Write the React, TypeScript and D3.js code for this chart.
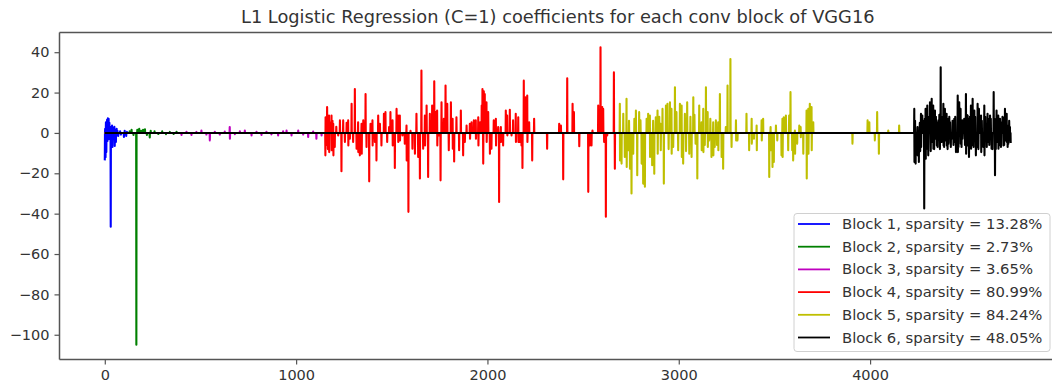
import React, { useEffect, useRef } from "react";
import * as d3 from "d3";

// coefficient index ranges of each conv block (64+64 | 128+128 | 256x3 | 512x3 | 512x3 | 512)
const blockStarts = [0, 128, 384, 1152, 2688, 4224];
const blockEnds = [127, 383, 1151, 2687, 4223, 4735];
const blockColors = ["#0000ff", "#008000", "#bf00bf", "#ff0000", "#bfbf00", "#000000"];
const sparsity = ["13.28%", "2.73%", "3.65%", "80.99%", "84.24%", "48.05%"];

const xTicks = [0, 1000, 2000, 3000, 4000];
const yTicks = [-100, -80, -60, -40, -20, 0, 20, 40];

// non-zero coefficients: [index, value]
const block1: [number, number][] = [
  [0, -13.6], [2, 2], [4, -12], [6, 5.3], [8, -9.5], [10, 4], [12, 6.5], [14, -4], [16, 7.3],
  [18, 3], [20, 7.0], [22, -3], [24, 5], [26, -2], [28, 3], [31, -46.5], [34, 2], [38, 3.7],
  [40, -7], [43, 2.5], [46, -3], [50, 3], [52, -6.5], [55, 1.5], [58, -4.5], [62, 2], [66, 1],
  [70, -1.5], [80, 0.8], [84, -0.8], [100, -2], [104, 1], [112, -1.5], [116, 0.5],
];
const block2: [number, number][] = [
  [130, 0.8], [140, 1.5], [150, -1], [165, -104.9], [170, 1.5], [180, 2], [190, 1], [200, 1.5],
  [210, 1.8], [220, -1], [235, -2.2], [240, 1], [260, 0.8], [280, -0.5], [300, 0.8], [320, -0.6],
  [340, 0.5], [360, -0.5], [375, 0.6],
];
const block3: [number, number][] = [
  [401, -1.0], [427, 0.6], [453, -1.0], [479, 0.5], [505, 1.2], [531, -0.8], [549, -3.7],
  [575, 0.6], [601, -0.8], [627, 0.7], [653, 2.9], [654, -2.9], [680, -0.6], [706, 0.8],
  [732, 1.2], [767, -1.2], [793, 0.6], [819, -1.0], [845, 0.6], [871, -0.7], [906, -1.2],
  [932, 0.8], [950, 1.2], [976, -1.2], [1011, 1.2], [1037, -0.8], [1063, -2.0], [1089, 0.7],
  [1106, -2.9], [1133, -1.2],
];
const block4: [number, number][] = [
  [1153, -11.1], [1154, 7.8], [1158, -6], [1162, 12.8], [1166, -8], [1172, 8.6], [1173, -9.5],
  [1178, 5], [1185, 8.6], [1186, -8.6], [1190, 6], [1194, 4.5], [1195, -11.1], [1202, -7.0],
  [1210, 3], [1220, -1.2], [1229, 6.2], [1237, -19.0], [1246, 6.2],
  [1255, -4.5], [1264, 5], [1272, 6.2], [1273, -6.2], [1281, -2.9], [1290, 14.4], [1298, -4.5], [1307, 21.8],
  [1316, -7.8], [1324, 5.3], [1325, -9.5], [1333, -11.1], [1342, 4.5], [1343, -10.3], [1351, 6.2],
  [1363, 19.3], [1368, -7.0], [1382, -24.0], [1389, 4.5], [1399, 6.2], [1400, -6.2], [1412, -4.5],
  [1420, -13.6], [1429, 8.6], [1438, 4.5], [1446, -6.2], [1459, 9.5], [1467, 10.3], [1476, -4.5],
  [1486, 2.9], [1493, 10.3], [1504, 6.2], [1505, -6.2], [1516, -17.4], [1525, 11.9], [1533, 8.6],
  [1534, -4.5], [1542, 8.6], [1543, -3.7], [1556, -1.2], [1568, -5.3], [1577, 3.7], [1578, -13.6],
  [1587, -39.1], [1598, 1.0], [1608, -7.8], [1621, -10.3], [1629, 9.5], [1638, -11.9], [1647, -22.6],
  [1655, 30.9], [1664, -7.8], [1673, 8.6], [1674, -6.2], [1682, 13.6], [1690, -21.8], [1699, 9.5],
  [1711, 13.6], [1722, 25.6], [1730, 10.3], [1737, 11.1], [1738, -6.2], [1748, -1.2], [1755, -23.5],
  [1760, 15.2], [1772, 7.0], [1781, 23.5], [1790, 14.4], [1798, -8.6], [1809, 15.2], [1818, 7.0],
  [1819, -7.8], [1826, -14.1], [1838, 7.8], [1852, -8.6], [1861, 11.1], [1873, -11.1], [1882, -4.5],
  [1891, 3.7], [1908, 4.5], [1909, -2.9], [1917, 5.3], [1929, 6.2], [1939, 6.2], [1940, -2.9],
  [1952, 7.8], [1953, -6.2], [1962, 5.3], [1970, 13.6], [1974, 21.8], [1978, -15.2], [1981, 20.6],
  [1986, 19.3], [1995, 15.2], [1996, -4.5], [2004, 10.3], [2013, -10.3], [2021, -7.8], [2033, 6.2],
  [2044, 7.0], [2045, -6.2], [2056, 2.9], [2061, -34.2], [2070, 2.9], [2071, -4.5], [2082, -6.2],
  [2096, 11.1], [2103, 8.6], [2104, -1.2], [2117, 11.5], [2126, -1.2], [2134, 6.2], [2148, 9.5],
  [2149, -4.5], [2161, 7.8], [2162, -4.5], [2169, -4.5], [2178, -6.2], [2183, -17.4], [2190, 25.9],
  [2199, 17.7], [2208, 18.5], [2209, -4.5], [2218, 5.3], [2234, -13.6], [2244, 7.0], [2312, -7.8],
  [2375, 4.5], [2384, 3.7], [2396, -23.0], [2417, 27.1], [2445, 14.4], [2452, 10.3], [2480, -6.6],
  [2527, -29.2], [2535, -6.2], [2544, -6.2], [2549, 1.2], [2579, 13.6], [2591, 42.4], [2600, 12.8],
  [2605, 11.9], [2610, -4.5], [2619, -41.5], [2626, -1.2], [2661, 30.0], [2666, -17.7],
];
const block5: [number, number][] = [
  [2692, 14.4], [2693, -13.6], [2701, -15.2], [2710, 9.5], [2718, -11.9], [2727, 16.9], [2728, -16.9],
  [2736, -8.6], [2740, 6], [2745, -17.7], [2753, -30.0], [2762, -10.3], [2768, 7], [2776, 11.1], [2783, -21.0], [2793, 10.3],
  [2800, 6.2], [2806, -15.2], [2814, -25.1], [2823, -26.7], [2832, 7.0], [2840, 9.5], [2849, 8.6],
  [2850, -11.9], [2861, -16.0], [2866, 6], [2872, -20.2], [2880, 7.8], [2889, 11.1], [2890, -10.3], [2898, 8], [2905, 4.5],
  [2906, -8.6], [2915, 11.9], [2922, -25.1], [2933, 13.6], [2941, 14.4], [2947, -8], [2954, 15.2], [2962, 11.9],
  [2963, -10.3], [2971, -7.0], [2980, 22.6], [2988, 10.3], [2997, -8.6], [3006, 14.4], [3015, 13.6],
  [3016, -11.9], [3023, -15.2], [3032, 9.5], [3038, -9], [3044, 15.2], [3055, -10.3], [3061, 8], [3067, -11.9], [3076, 17.7],
  [3082, 9], [3088, -5.3], [3097, -22.6], [3107, 13.6], [3119, 5.3], [3120, -8.6], [3128, 11.9], [3129, -9.5],
  [3136, -6], [3142, 22.6], [3151, 10.3], [3152, -7.0], [3159, -3.7], [3165, 7], [3171, -11.9], [3180, 5.3], [3181, -11.1],
  [3188, -7], [3194, 6.2], [3200, -6], [3206, 5.3], [3207, -8.6], [3215, 19.3], [3224, -11.9], [3232, -17.7], [3246, 2.9],
  [3255, 23.5], [3270, 36.6], [3276, -7.0], [3299, 6.2], [3300, -3.7], [3307, -3.7], [3354, 9.5],
  [3368, -8.6], [3381, 7.0], [3382, -5.3], [3393, -2.9], [3407, 3.7], [3408, -8.6], [3433, 6.2],
  [3434, -3.7], [3441, 7.0], [3473, -21.8], [3480, 2.9], [3481, -8.6], [3490, -16.9], [3497, -14.4],
  [3508, 3.7], [3515, -3.7], [3537, -11.1], [3542, 7.0], [3543, -11.9], [3549, 7.8], [3560, 8.6],
  [3572, -8.6], [3577, 8.6], [3584, 20.2], [3593, -8.6], [3598, -13.6], [3607, 1.2], [3608, -10.3],
  [3619, -5.3], [3630, 3.7], [3637, 2.9], [3638, -2.1], [3651, -10.3], [3668, 11.1], [3669, -22.6],
  [3677, 11.9], [3678, -10.3], [3685, 14.4], [3694, 12.8], [3695, -8.6], [3703, 5.3], [3908, -5.3],
  [3987, 6.2], [3996, 5.3], [4025, -3.7], [4037, 10.3], [4046, -10.3], [4095, 1.2], [4152, 3.7],
];
const block6: [number, number][] = [
  [4231, 11.9], [4232, -14.4], [4235, 6], [4238, -15.2], [4244, -8], [4248, 2.9], [4249, -11.1],
  [4255, -14.4], [4260, 5], [4262, -9], [4266, 9.5], [4267, -7.0], [4273, 8.6], [4278, 6],
  [4283, -37.4], [4286, 7], [4290, 11.9], [4291, -12.8], [4295, -6], [4299, 13.6], [4300, -7.8],
  [4304, -11.1], [4308, 8], [4313, 15.2], [4317, -9], [4322, 16.9], [4323, -4.5], [4326, 9],
  [4330, 13.6], [4331, -7.8], [4335, -8], [4339, 11.1], [4340, -2.9], [4344, 8], [4348, 5.3],
  [4349, -6.2], [4353, -7], [4357, 6.2], [4362, 9], [4365, -8], [4369, 32.5], [4374, -4.5],
  [4378, 8], [4383, 14.4], [4384, -6.2], [4387, -7], [4391, 11.9], [4392, -3.7], [4396, 7],
  [4400, 9.5], [4401, -6.2], [4405, -8], [4409, 7.0], [4410, -5.3], [4414, 8], [4418, 5.3],
  [4422, -7], [4426, -2.9], [4431, 6], [4436, -6], [4440, 7.0], [4441, -4.5], [4445, 8],
  [4449, -9.5], [4454, -6], [4458, 18.5], [4459, -9.5], [4462, -7], [4466, 15.2], [4470, 8],
  [4473, 11.9], [4474, -5.3], [4478, -7], [4482, 6.2], [4483, -2.9], [4487, 6], [4492, 7.0],
  [4496, -6], [4501, 19.3], [4502, -10.3], [4506, 9], [4510, 8.6], [4511, -6.2], [4514, 7],
  [4517, -11.9], [4522, 8], [4527, 13.6], [4528, -7.8], [4532, -6], [4536, 16.9], [4537, -4.5],
  [4541, -7], [4545, 11.1], [4549, 8], [4553, -11.1], [4558, -7], [4562, 14.4], [4563, -6.2],
  [4566, -8], [4569, 11.9], [4574, 7], [4580, 8.6], [4581, -9.5], [4584, 6], [4588, -6.2],
  [4592, -7], [4597, 13.6], [4598, -11.1], [4602, 8], [4606, -2.9], [4610, -7], [4614, 9.5],
  [4615, -4.5], [4619, 7], [4623, -6], [4627, 8.6], [4631, 7], [4635, -7.8], [4640, -8],
  [4646, 20.2], [4650, 7], [4653, -21.0], [4657, -8], [4661, 11.1], [4662, -4.5], [4666, 7],
  [4670, 8.6], [4671, -7.8], [4675, -6], [4679, 7.0], [4680, -4.5], [4684, -7], [4688, 5.3],
  [4692, 8], [4696, 7.6], [4697, -6.2], [4701, -6], [4705, 11.9], [4706, -3.7], [4710, 7],
  [4714, 9.5], [4715, -4.5], [4719, -7], [4722, 3.7], [4723, -5.3], [4727, 6], [4731, 2.9],
  [4732, -3.7], [4735, -5],
];
const blocks = [block1, block2, block3, block4, block5, block6];

const W = 1052;
const H = 384;
const FONT = "DejaVu Sans, Liberation Sans, sans-serif";

export default function App() {
  const ref = useRef<SVGSVGElement>(null);

  useEffect(() => {
    const svg = d3.select(ref.current);
    svg.selectAll("*").remove();

    const n = blockEnds[blockEnds.length - 1] + 1;
    // each block is plotted over the whole index range, zero outside its non-zero coefficients
    const series = blocks.map((b) => {
      const arr = new Array(n).fill(0);
      b.forEach(([i, v]) => (arr[i] = v));
      return arr.map((v, i) => [i, v] as [number, number]);
    });

    const allVals = blocks.flat().map((d) => d[1]);
    const yMin = Math.min(0, d3.min(allVals) as number);
    const yMax = Math.max(0, d3.max(allVals) as number);
    const yPad = (yMax - yMin) * 0.05;
    const xPad = (n - 1) * 0.05;

    const left = 59.5, right = 1056, top = 32.5, bottom = 359.5;

    const x = d3.scaleLinear().domain([-xPad, n - 1 + xPad]).range([left, right]);
    const y = d3.scaleLinear().domain([yMin - yPad, yMax + yPad]).range([bottom, top]);

    const line = d3
      .line<[number, number]>()
      .x((d) => x(d[0]))
      .y((d) => y(d[1]));

    series.forEach((s, k) => {
      svg
        .append("path")
        .attr("d", line(s))
        .attr("fill", "none")
        .attr("stroke", blockColors[k])
        .attr("stroke-width", 2.1)
        .attr("stroke-linejoin", "round");
    });

    // spines
    const spine = "#555";
    svg.append("line").attr("x1", left).attr("x2", left).attr("y1", top).attr("y2", bottom)
      .attr("stroke", spine).attr("stroke-width", 1.5);
    svg.append("line").attr("x1", left).attr("x2", right).attr("y1", bottom).attr("y2", bottom)
      .attr("stroke", spine).attr("stroke-width", 1.5);
    svg.append("line").attr("x1", left).attr("x2", right).attr("y1", top).attr("y2", top)
      .attr("stroke", spine).attr("stroke-width", 1.5);
    svg.append("line").attr("x1", right).attr("x2", right).attr("y1", top).attr("y2", bottom)
      .attr("stroke", spine).attr("stroke-width", 1.5);

    // axes
    const xAxis = svg
      .append("g")
      .attr("transform", `translate(0,${bottom})`)
      .call(
        d3.axisBottom(x).tickValues(xTicks).tickFormat(d3.format("d")).tickSize(5).tickPadding(5).tickSizeOuter(0)
      );
    const yAxis = svg
      .append("g")
      .attr("transform", `translate(${left},0)`)
      .call(d3.axisLeft(y).tickValues(yTicks).tickSize(5).tickPadding(5).tickSizeOuter(0));
    [xAxis, yAxis].forEach((g) => {
      g.select(".domain").remove();
      g.selectAll(".tick line").attr("stroke", spine).attr("stroke-width", 1.2);
      g.selectAll(".tick text")
        .attr("fill", "#333")
        .style("font-family", FONT)
        .style("font-size", "14.5px");
    });

    // title
    svg
      .append("text")
      .attr("x", (left + right) / 2)
      .attr("y", 23)
      .attr("text-anchor", "middle")
      .attr("fill", "#333")
      .style("font-family", FONT)
      .style("font-size", "17.8px")
      .text("L1 Logistic Regression (C=1) coefficients for each conv block of VGG16");

    // legend
    const lg = svg.append("g");
    lg.append("rect")
      .attr("x", 794)
      .attr("y", 213.5)
      .attr("width", 256)
      .attr("height", 138)
      .attr("rx", 3)
      .attr("fill", "white")
      .attr("fill-opacity", 0.85)
      .attr("stroke", "#d0d0d0");
    blockColors.forEach((c, k) => {
      const cy = 224 + k * 22.7;
      lg.append("line")
        .attr("x1", 798).attr("x2", 830).attr("y1", cy).attr("y2", cy)
        .attr("stroke", c).attr("stroke-width", 1.8);
      lg.append("text")
        .attr("x", 842)
        .attr("y", cy + 5)
        .attr("fill", "#333")
        .style("font-family", FONT)
        .style("font-size", "14.8px")
        .text(`Block ${k + 1}, sparsity = ${sparsity[k]}`);
    });
  }, []);

  return (
    <svg
      ref={ref}
      width={W}
      height={H}
      style={{ position: "absolute", left: 0, top: 0, background: "white" }}
    />
  );
}
